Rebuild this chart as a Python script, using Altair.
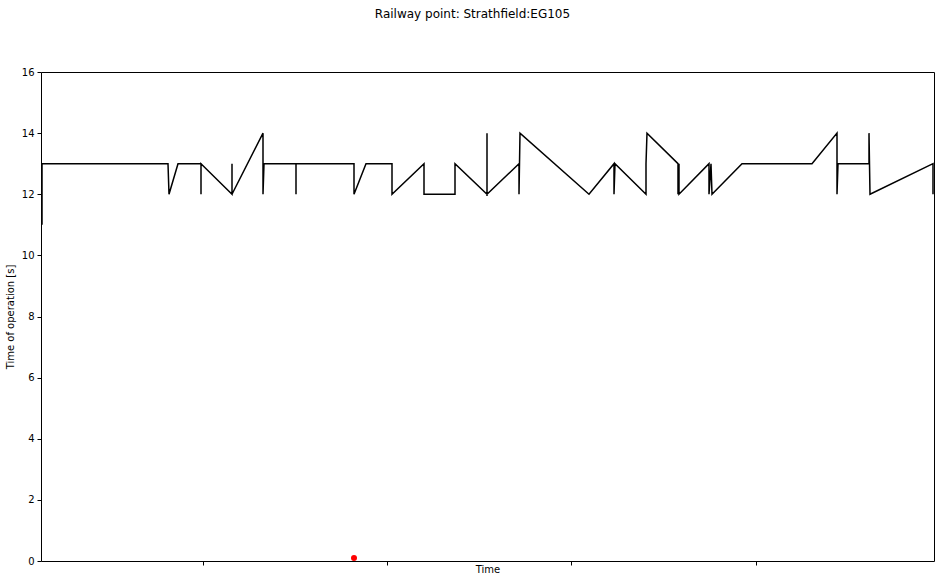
import altair as alt
import pandas as pd

# time (arbitrary units from start) and operating time [s]
times = [1, 1, 127, 128, 137, 160, 160, 160, 191, 191, 191, 222, 222, 223,
         255, 255, 255, 313, 313, 325, 351, 351, 383, 383, 414, 414, 414, 446,
         446, 446, 478, 478, 479, 548, 573, 573, 574, 605, 605, 606, 637, 637,
         638, 638, 668, 668, 670, 671, 701, 771, 796, 796, 797, 828, 828, 829,
         892, 892]
values = [11, 13, 13, 12, 13, 13, 12, 13, 12, 13, 12, 14, 12, 13,
          13, 12, 13, 13, 12, 13, 13, 12, 13, 12, 12, 13, 13, 12,
          14, 12, 13, 12, 14, 12, 13, 12, 13, 12, 13, 14, 13, 12,
          13, 12, 13, 12, 13, 12, 13, 13, 14, 12, 13, 13, 14, 12,
          13, 12]
fail_time = [313]
fail_value = [0.1]
x_ticks = [162, 346, 530, 715]

df = pd.DataFrame({"t": times, "v": values, "i": list(range(len(times)))})
df_fail = pd.DataFrame({"t": fail_time, "v": fail_value})

xscale = alt.Scale(domain=[0, 893], nice=False, zero=False)
yscale = alt.Scale(domain=[0, 16], nice=False)

line = alt.Chart(df).mark_line(color="black", strokeWidth=1.5, clip=True).encode(
    x=alt.X("t:Q", scale=xscale,
            axis=alt.Axis(title="Time", labels=False, values=x_ticks, grid=False,
                          tickSize=4, tickColor="black", domain=False,
                          titlePadding=-1, titleFontWeight="normal",
                          titleFontSize=10, titleColor="black", titleFont="DejaVu Sans")),
    y=alt.Y("v:Q", scale=yscale,
            axis=alt.Axis(title="Time of operation [s]", values=list(range(0, 17, 2)),
                          grid=False, tickSize=4, tickColor="black", domain=False,
                          labelFont="DejaVu Sans", labelFontSize=10, labelColor="black",
                          labelPadding=3, titleFont="DejaVu Sans", titleFontSize=10,
                          titleFontWeight="normal", titleColor="black", titlePadding=6)),
    order="i:Q",
)

dots = alt.Chart(df_fail).mark_circle(color="red", size=36, opacity=1).encode(
    x=alt.X("t:Q", scale=xscale),
    y=alt.Y("v:Q", scale=yscale),
)

chart = alt.layer(line, dots).properties(
    width=893, height=489,
    title=alt.TitleParams("Railway point: Strathfield:EG105", font="DejaVu Sans",
                          fontSize=12, fontWeight="normal", color="black",
                          anchor="middle", dx=-15, offset=46),
    autosize=alt.AutoSizeParams(type="none"),
    padding={"left": 41, "top": 72, "right": 10, "bottom": 21},
    background="white",
).configure_view(stroke="black", strokeWidth=1)

chart.save("out.html", embed_options={"renderer": "svg", "actions": False})
